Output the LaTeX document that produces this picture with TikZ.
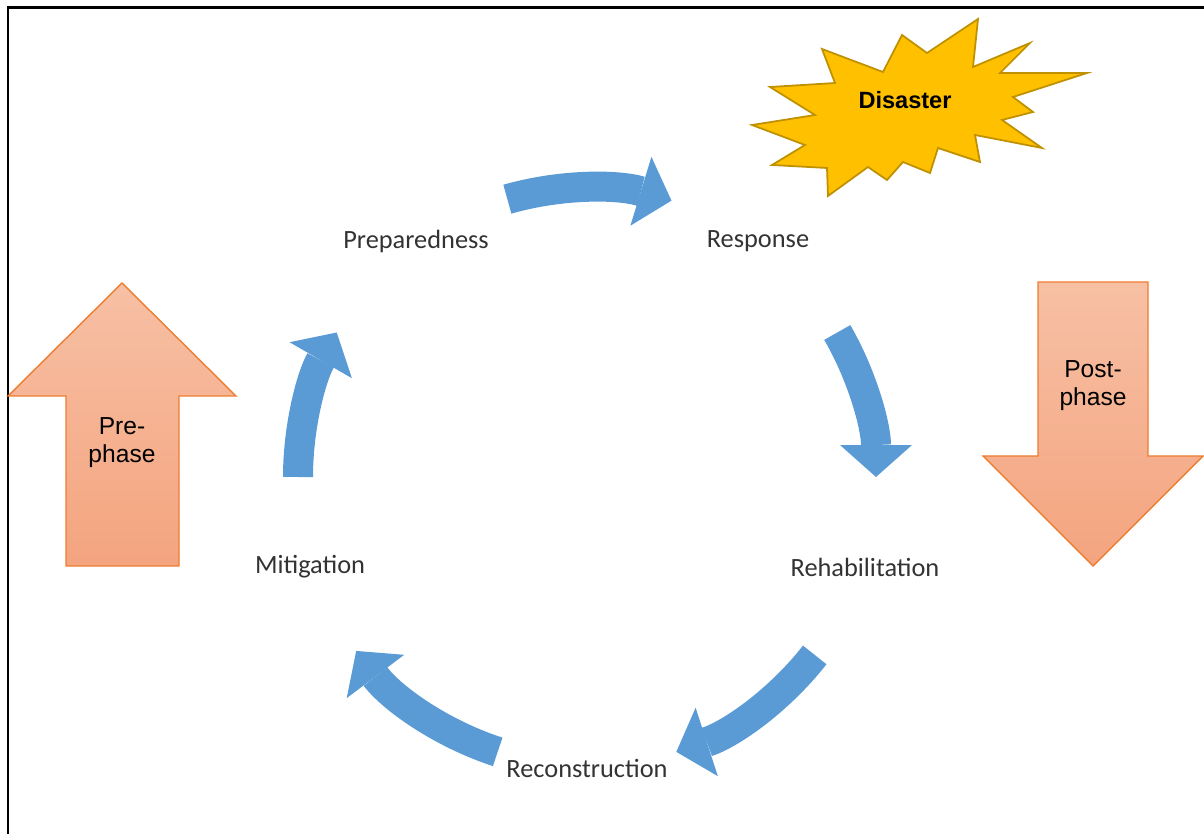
\documentclass[tikz,border=0pt]{standalone}
\usepackage{fontspec}
\setmainfont{Liberation Sans}
\newfontfamily\cyclefont{Carlito}
\usepackage{xcolor}
\usetikzlibrary{arrows.meta,calc}
\definecolor{cycblue}{HTML}{5B9BD5}
\definecolor{phasetop}{HTML}{F7C0A4}
\definecolor{phasebot}{HTML}{F4A47F}
\definecolor{phaseline}{HTML}{ED7D31}
\definecolor{starfill}{HTML}{FFC000}
\definecolor{starline}{HTML}{BF9000}

\begin{document}
\begin{tikzpicture}[x=0.02cm, y=0.02cm,
    stage/.style={font=\cyclefont\fontsize{15}{18}\selectfont, text=black!80, inner sep=0pt},
    cyc/.style={line width=0.6cm, cycblue, -{Triangle[width=1.44cm,length=0.64cm,line width=0pt]}},
    phase/.style={draw=phaseline, line width=0.8pt, top color=phasetop, bottom color=phasebot},
    phasetext/.style={align=center, font=\fontsize{14}{16}\selectfont}]
  \useasboundingbox (0,0) rectangle (1204,-834);
  \draw[line width=0.06cm] (8,-834) -- (8,-8) -- (1204,-8);

  % cycle
  \coordinate (c) at (587,-477);
  \node[stage] (prep)  at (416,-241) {Preparedness};
  \node[stage] (resp)  at (758,-241) {Response};
  \node[stage] (rehab) at (865,-567) {Rehabilitation};
  \node[stage] (recon) at (587,-768) {Reconstruction};
  \node[stage] (miti)  at (310,-567) {Mitigation};

  \coordinate (s1) at ($(c)+(106:289)$);
  \coordinate (s2) at ($(c)+(30:289)$);
  \coordinate (s3) at ($(c)+(-38:289)$);
  \coordinate (s4) at ($(c)+(-108:289)$);
  \coordinate (s5) at ($(c)+(180:289)$);
  \draw[cyc] (s1) arc[start angle=106, end angle=73, radius=289];
  \draw[cyc] (s2) arc[start angle=30, end angle=0, radius=289];
  \draw[cyc] (s3) arc[start angle=-38, end angle=-72, radius=289];
  \draw[cyc] (s4) arc[start angle=-108, end angle=-143, radius=289];
  \draw[cyc] (s5) arc[start angle=180, end angle=150, radius=289];

  % phases
  \draw[phase] (122,-283) -- (236,-396) -- (179,-396) -- (179,-566)
    -- (66,-566) -- (66,-396) -- (8,-396) -- cycle;
  \node[phasetext] (pre) at (122,-443) {Pre-\\phase};
  \draw[phase] (1038,-282) -- (1148,-282) -- (1148,-456) -- (1203,-456)
    -- (1093,-566) -- (983,-456) -- (1038,-456) -- cycle;
  \node[phasetext] (post) at (1093,-386) {Post-\\phase};

  % disaster
  \draw[fill=starfill, draw=starline, line width=1pt]
    (978,-19) -- (973,-67) -- (1030,-43) -- (1000,-73) -- (1087,-73)
    -- (1013,-97) -- (1033,-112) -- (1002,-120) -- (1042,-148) -- (975,-135)
    -- (980,-162) -- (938,-148) -- (930,-173) -- (903,-162) -- (887,-180)
    -- (868,-167) -- (828,-196) -- (827,-168) -- (772,-165) -- (805,-145)
    -- (752,-125) -- (815,-115) -- (770,-87) -- (835,-83) -- (822,-49)
    -- (883,-72) -- (902,-35) -- (927,-53) -- cycle;
  \node[font=\bfseries\fontsize{13.4}{16}\selectfont] (dis) at (905,-100) {Disaster};
\end{tikzpicture}
\end{document}
